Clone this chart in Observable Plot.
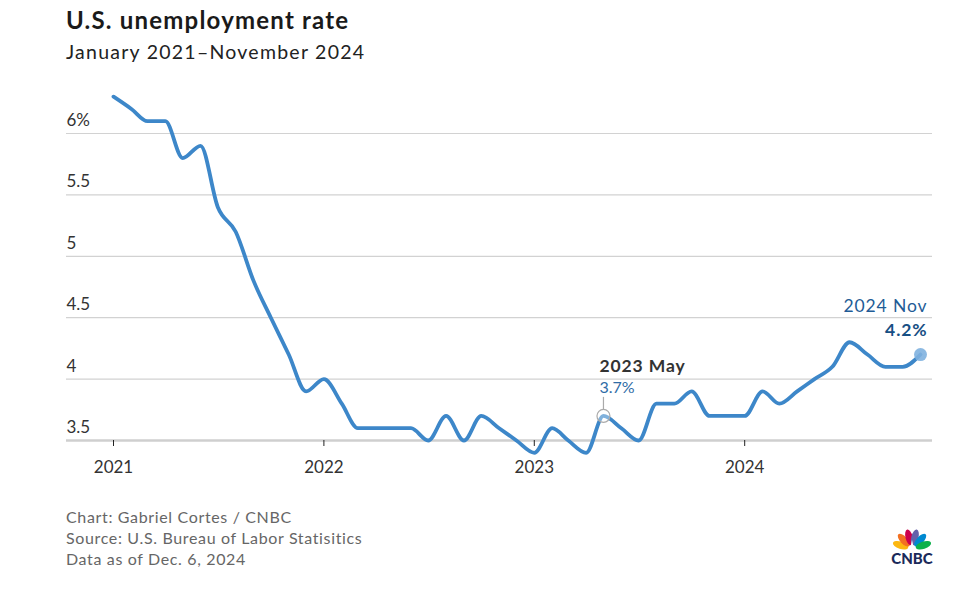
<!DOCTYPE html>
<html><head><meta charset="utf-8">
<script src="https://cdn.jsdelivr.net/npm/d3@7"></script>
<script src="https://cdn.jsdelivr.net/npm/@observablehq/plot@0.6"></script>
<style>
body{margin:0;background:#fff;font-family:Lato,"Open Sans",sans-serif;}
#wrap{position:relative;width:957px;height:590px;overflow:hidden;background:#fff;}
#title{position:absolute;left:66px;top:5px;font-size:24px;font-weight:700;color:#1a1a1a;line-height:30px;white-space:nowrap;letter-spacing:1.2px;}
#sub{position:absolute;left:66px;top:40px;font-size:19.5px;color:#222;line-height:24px;white-space:nowrap;letter-spacing:1.25px;}
#chart{position:absolute;left:0;top:80px;}
#foot{position:absolute;left:66px;top:506px;font-size:16px;line-height:21px;color:#666;white-space:nowrap;letter-spacing:0.65px;}
#logo{position:absolute;left:888px;top:524px;}
</style></head>
<body><div id="wrap">
<div id="title">U.S. unemployment rate</div>
<div id="sub">January 2021–November 2024</div>
<div id="chart"></div>
<div id="foot">Chart: Gabriel Cortes / CNBC<br>Source: U.S. Bureau of Labor Statisitics<br>Data as of Dec. 6, 2024</div>
<div id="logo">
<svg width="48" height="46" viewBox="0 0 48 46">
  <g transform="translate(24,25)">
    <ellipse cx="0" cy="-12" rx="3.6" ry="8" fill="#fcb711" transform="rotate(-72)"/>
    <ellipse cx="0" cy="-12" rx="3.6" ry="8" fill="#f37021" transform="rotate(-43)"/>
    <ellipse cx="0" cy="-12" rx="3.6" ry="8" fill="#cc004c" transform="rotate(-14)"/>
    <ellipse cx="0" cy="-12" rx="3.6" ry="8" fill="#6460aa" transform="rotate(14)"/>
    <ellipse cx="0" cy="-12" rx="3.6" ry="8" fill="#0089d0" transform="rotate(43)"/>
    <ellipse cx="0" cy="-12" rx="3.6" ry="8" fill="#0db14b" transform="rotate(72)"/>
    <path d="M-2,0 L0,-9 L2,0 Z" fill="#fff"/>
  </g>
  <text x="24" y="40" text-anchor="middle" font-family="Lato, sans-serif" font-weight="900" font-size="15" fill="#1b2a5a">CNBC</text>
</svg>
</div>
</div>
<script>
// Monthly U.S. unemployment rate (%), January 2021 – November 2024
const rate2021 = [6.3, 6.2, 6.1, 6.1, 5.8, 5.9, 5.4, 5.2, 4.8, 4.5, 4.2, 3.9];
const rate2022 = [4.0, 3.8, 3.6, 3.6, 3.6, 3.6, 3.5, 3.7, 3.5, 3.7, 3.6, 3.5];
const rate2023 = [3.4, 3.6, 3.5, 3.4, 3.7, 3.6, 3.5, 3.8, 3.8, 3.9, 3.7, 3.7];
const rate2024 = [3.7, 3.9, 3.8, 3.9, 4.0, 4.1, 4.3, 4.2, 4.1, 4.1, 4.2];
const years = [2021, 2022, 2023, 2024];
const yTicks = [3.5, 4, 4.5, 5, 5.5, 6];
const yTickLabels = ["3.5", "4", "4.5", "5", "5.5", "6%"];
const highlight = {year: 2023, month: 5, label: "2023 May", valueLabel: "3.7%"};
const latest = {year: 2024, month: 11, label: "2024 Nov", valueLabel: "4.2%"};

const series = [rate2021, rate2022, rate2023, rate2024];
const data = [];
series.forEach((arr, yi) => arr.forEach((v, m) => data.push({date: new Date(Date.UTC(years[yi], m, 1)), rate: v})));
const find = (o) => data.find(d => d.date.getUTCFullYear() === o.year && d.date.getUTCMonth() === o.month - 1);
const hi = [{...find(highlight), ...highlight}];
const last = [{...find(latest), ...latest}];
const yearDates = years.map(y => new Date(Date.UTC(y, 0, 1)));

const stem = {draw(ctx, l) { ctx.moveTo(0, 0); ctx.lineTo(0, -l); }};

const chart = Plot.plot({
  width: 957, height: 420,
  marginLeft: 66, marginRight: 25, marginTop: 53, marginBottom: 60,
  x: {type: "utc", domain: [data[0].date, data[data.length - 1].date], insetLeft: 47, insetRight: 12},
  y: {domain: [3.5, 6]},
  style: {fontFamily: "Lato, sans-serif", overflow: "visible", background: "#fff"},
  marks: [
    Plot.ruleY(yTicks.slice(1), {stroke: "#d2d2d2", strokeWidth: 1.2}),
    Plot.ruleY(yTicks.slice(0, 1), {stroke: "#cfcfcf", strokeWidth: 2.5}),
    Plot.axisY({ticks: yTicks, tickFormat: d => yTickLabels[yTicks.indexOf(d)], tickSize: 0, tickPadding: 0,
      textAnchor: "start", dy: -13, fontSize: 17, fill: "#333", label: null}),
    Plot.axisX({ticks: yearDates, tickFormat: d3.utcFormat("%Y"), tickSize: 6, tickPadding: 14,
      fontSize: 17, fill: "#333", stroke: "#222", label: null}),
    Plot.lineY(data, {x: "date", y: "rate", curve: "monotone-x", stroke: "#3d87c9", strokeWidth: 3.8}),
    // highlight annotation
    Plot.vector(hi, {x: "date", y: "rate", length: 12, rotate: 0, anchor: "start", shape: stem, dy: -6.5, stroke: "#aaa", strokeWidth: 1.2}),
    Plot.dot(hi, {x: "date", y: "rate", r: 6.5, stroke: "#aaa", strokeWidth: 1.2, fill: "#fff", fillOpacity: 0.35}),
    Plot.text(hi, {x: "date", y: "rate", text: "label", textAnchor: "start", dx: -4, dy: -50, fontSize: 17.5, fontWeight: "bold", fill: "#333"}),
    Plot.text(hi, {x: "date", y: "rate", text: "valueLabel", textAnchor: "start", dx: -4, dy: -28, fontSize: 16, fill: "#2f6ca6"}),
    // latest annotation
    Plot.dot(last, {x: "date", y: "rate", r: 6.5, fill: "#7fb1df", fillOpacity: 0.9}),
    Plot.text(last, {x: "date", y: "rate", text: "label", textAnchor: "end", dx: 7, dy: -48, fontSize: 17.5, fill: "#1f5c96"}),
    Plot.text(last, {x: "date", y: "rate", text: "valueLabel", textAnchor: "end", dx: 7, dy: -24, fontSize: 17.5, fontWeight: "bold", fill: "#174f84"})
  ]
});
document.getElementById("chart").appendChild(chart);
// widen annotation lettering to match the reference typeface
d3.select(chart).selectAll("text").filter(function() {
  const t = this.textContent;
  return t === highlight.label || t === latest.label || t === latest.valueLabel;
}).style("letter-spacing", "0.9px");
</script>
</body></html>
